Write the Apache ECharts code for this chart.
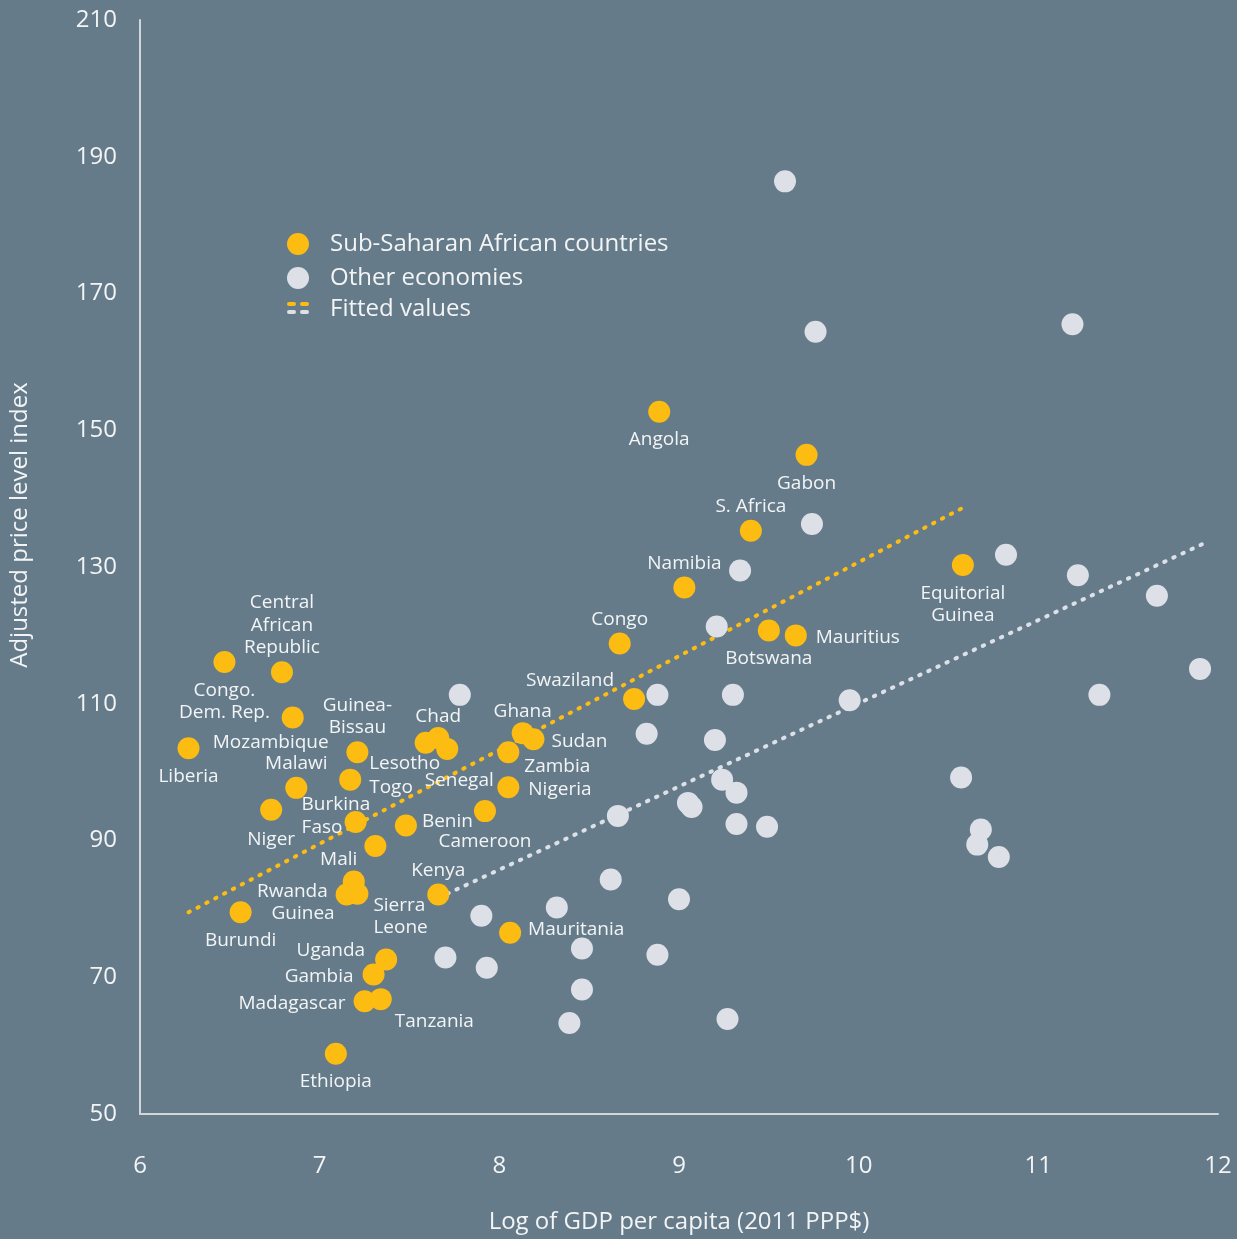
<!DOCTYPE html>
<html>
<head>
<meta charset="utf-8">
<script src="https://cdn.jsdelivr.net/npm/echarts@6/dist/echarts.min.js"></script>
<style>
    html, body { margin: 0; padding: 0; background: #657b8a; }
    #chart { width: 1237px; height: 1239px; }
</style>
</head>
<body>
<div id="chart"></div>
<script>
// 撒哈拉以南非洲国家
var ssaNames = ['Angola', 'Gabon', 'S. Africa', 'Namibia', 'Equitorial\nGuinea', 'Congo', 'Botswana', 'Mauritius',
    'Swaziland', 'Ghana', 'Sudan', 'Zambia', 'Nigeria', 'Cameroon', 'Benin', 'Chad', 'Lesotho', 'Senegal',
    'Guinea-\nBissau', 'Togo', 'Congo.\nDem. Rep.', 'Central\nAfrican\nRepublic', 'Mozambique', 'Liberia', 'Malawi',
    'Niger', 'Burkina\nFaso', 'Mali', 'Kenya', 'Rwanda', 'Guinea', 'Sierra\nLeone', 'Burundi', 'Uganda', 'Gambia',
    'Madagascar', 'Tanzania', 'Ethiopia', 'Mauritania'];
var ssaGdp = [8.89, 9.71, 9.40, 9.03, 10.58, 8.67, 9.50, 9.65,
    8.75, 8.13, 8.19, 8.05, 8.05, 7.92, 7.48, 7.66, 7.59, 7.71,
    7.21, 7.17, 6.47, 6.79, 6.85, 6.27, 6.87,
    6.73, 7.20, 7.31, 7.66, 7.19, 7.15, 7.21, 6.56, 7.37, 7.30,
    7.25, 7.34, 7.09, 8.06];
var ssaPrice = [152.7, 146.4, 135.3, 127.0, 130.3, 118.8, 120.7, 120.0,
    110.7, 105.7, 104.8, 102.9, 97.8, 94.3, 92.2, 105.0, 104.3, 103.4,
    102.9, 98.9, 116.1, 114.6, 108.0, 103.5, 97.7,
    94.5, 92.7, 89.2, 82.1, 84.0, 82.1, 82.2, 79.5, 72.6, 70.4,
    66.5, 66.8, 58.8, 76.5];

// 其他经济体
var otherGdp = [9.59, 9.76, 11.19, 9.74, 10.82, 9.34, 11.22, 11.66, 9.21, 11.90,
    7.78, 8.88, 9.30, 11.34, 9.95, 8.82, 9.20, 10.57, 9.24, 9.32,
    9.05, 9.07, 8.66, 9.32, 9.49, 10.68, 10.66, 10.78, 8.62, 9.00,
    8.32, 7.90, 8.46, 8.88, 7.70, 7.93, 8.46, 8.39, 9.27];
var otherPrice = [186.4, 164.4, 165.5, 136.3, 131.8, 129.5, 128.8, 125.8, 121.3, 115.1,
    111.3, 111.3, 111.3, 111.3, 110.5, 105.6, 104.7, 99.2, 98.9, 97.0,
    95.5, 94.9, 93.6, 92.4, 92.0, 91.6, 89.4, 87.6, 84.3, 81.4,
    80.2, 79.0, 74.2, 73.3, 72.9, 71.4, 68.2, 63.3, 63.9];

// 拟合线
var fitSsaGdp = [6.27, 10.59];
var fitSsaPrice = [79.5, 138.8];
var fitOtherGdp = [7.66, 11.91];
var fitOtherPrice = [81.6, 133.3];

var xTicks = [6, 7, 8, 9, 10, 11, 12];
var yTicks = [50, 70, 90, 110, 130, 150, 170, 190, 210];

var YELLOW = '#fdbc11';
var GREY = '#dde1e7';
var TEXT = '#f3f4f5';
var FONT = '"Open Sans", "Noto Sans", sans-serif';

// 标签位置 [position, distance, dx, dy, align]
var labelSpots = {
    'Mauritius': ['right', 9, 0, 0],
    'Swaziland': ['top', 4, -64, 6],
    'Ghana': ['top', 4, 0, 3],
    'Sudan': ['right', 7, 0, 0],
    'Zambia': ['right', 5, 0, 12],
    'Nigeria': ['right', 9, 0, 0],
    'Cameroon': ['bottom', 4, 0, 2],
    'Benin': ['right', 5, 0, -6],
    'Chad': ['top', 4, 0, 3],
    'Lesotho': ['inside', 0, -21, 19],
    'Senegal': ['inside', 0, 12, 30],
    'Togo': ['right', 8, 0, 6],
    'Mozambique': ['bottom', 4, -22, -3],
    'Niger': ['bottom', 4, 0, 2],
    'Burkina\nFaso': ['inside', 0, -54, -8, 'left'],
    'Mali': ['left', 7, 0, 12],
    'Rwanda': ['left', 15, 0, 8],
    'Guinea': ['left', 1, 0, 17],
    'Sierra\nLeone': ['right', 5, 0, 21],
    'Uganda': ['left', 10, 0, -11],
    'Gambia': ['left', 9, 0, 0],
    'Madagascar': ['left', 8, 0, 0],
    'Tanzania': ['right', 3, 0, 20],
    'Mauritania': ['right', 7, 0, -5],
    'S. Africa': ['top', 4, 0, 0],
    'Namibia': ['top', 4, 0, 0],
    'Congo': ['top', 4, 0, 0],
    'Guinea-\nBissau': ['top', 4, 0, 0],
    'Central\nAfrican\nRepublic': ['top', 4, 0, 0],
    'Malawi': ['top', 4, 0, 0],
    'Kenya': ['top', 4, 0, 0]
};

function spotOf(name) {
    return labelSpots[name] || ['bottom', 4, 0, 0];
}

function pairs(xs, ys) {
    var out = [];
    for (var i = 0; i < xs.length; i++) {
        out.push([xs[i], ys[i]]);
    }
    return out;
}

function buildSsaData() {
    var out = [];
    for (var i = 0; i < ssaNames.length; i++) {
        var spot = spotOf(ssaNames[i]);
        var label = {
            position: spot[0],
            distance: spot[1]
        };
        if (spot[4]) {
            label.align = spot[4];
        }
        out.push({
            name: ssaNames[i],
            value: [ssaGdp[i], ssaPrice[i]],
            label: label
        });
    }
    return out;
}

var chart = echarts.init(document.getElementById('chart'));
var option = {
    backgroundColor: '#657b8a',
    animation: false,
    textStyle: { fontFamily: FONT },
    grid: { left: 140, right: 19, top: 20, bottom: 122 },
    legend: {
        left: 287,
        top: 232,
        padding: 0,
        orient: 'vertical',
        itemWidth: 22,
        itemHeight: 22,
        itemGap: 10,
        selectedMode: false,
        textStyle: { color: TEXT, fontSize: 24, lineHeight: 22, fontFamily: FONT, padding: [0, 0, 0, 16] },
        data: [
            { name: 'Sub-Saharan African countries', icon: 'circle' },
            { name: 'Other economies', icon: 'circle' }
        ]
    },
    graphic: [
        // 拟合线图例
        { type: 'rect', shape: { x: 287, y: 302, width: 9, height: 4, r: 2 }, style: { fill: YELLOW } },
        { type: 'rect', shape: { x: 300, y: 302, width: 9, height: 4, r: 2 }, style: { fill: YELLOW } },
        { type: 'rect', shape: { x: 287, y: 310, width: 9, height: 4, r: 2 }, style: { fill: GREY } },
        { type: 'rect', shape: { x: 300, y: 310, width: 9, height: 4, r: 2 }, style: { fill: GREY } },
        {
            type: 'text', x: 330, y: 309,
            style: { text: 'Fitted values', fill: TEXT, font: '24px ' + FONT, align: 'left', verticalAlign: 'middle' }
        },
        // y轴名称
        {
            type: 'text', x: 20, y: 525, rotation: Math.PI / 2,
            style: { text: 'Adjusted price level index', fill: TEXT, font: '24px ' + FONT, align: 'center', verticalAlign: 'middle' }
        }
    ],
    xAxis: {
        type: 'value',
        min: xTicks[0],
        max: xTicks[xTicks.length - 1],
        interval: 1,
        name: 'Log of GDP per capita (2011 PPP$)',
        nameLocation: 'middle',
        nameGap: 96,
        nameTextStyle: { color: TEXT, fontSize: 24, fontFamily: FONT },
        axisLine: { lineStyle: { color: '#d3d6d9', width: 2 } },
        axisTick: { show: false },
        splitLine: { show: false },
        axisLabel: { color: TEXT, fontSize: 24, margin: 40, fontFamily: FONT }
    },
    yAxis: {
        type: 'value',
        min: yTicks[0],
        max: yTicks[yTicks.length - 1],
        interval: 20,
        axisLine: { show: true, lineStyle: { color: '#d3d6d9', width: 2 } },
        axisTick: { show: false },
        splitLine: { show: false },
        axisLabel: { color: TEXT, fontSize: 24, margin: 23, padding: [4, 0, 0, 0], fontFamily: FONT }
    },
    series: [
        {
            name: 'Fitted SSA',
            type: 'line',
            showSymbol: false,
            symbol: 'none',
            lineStyle: { color: YELLOW, width: 4, type: [1.5, 8.5], cap: 'round' },
            data: pairs(fitSsaGdp, fitSsaPrice),
            z: 1
        },
        {
            name: 'Fitted other',
            type: 'line',
            showSymbol: false,
            symbol: 'none',
            lineStyle: { color: GREY, width: 4, type: [1.5, 8.5], cap: 'round' },
            data: pairs(fitOtherGdp, fitOtherPrice),
            z: 1
        },
        {
            name: 'Other economies',
            type: 'scatter',
            symbolSize: 22,
            itemStyle: { color: GREY, opacity: 1 },
            data: pairs(otherGdp, otherPrice),
            z: 2
        },
        {
            name: 'Sub-Saharan African countries',
            type: 'scatter',
            symbolSize: 22,
            itemStyle: { color: YELLOW, opacity: 1 },
            label: {
                show: true,
                formatter: '{b}',
                color: TEXT,
                fontSize: 19,
                lineHeight: 22.5,
                fontFamily: FONT
            },
            // 标签微调
            labelLayout: function (params) {
                var spot = spotOf(ssaNames[params.dataIndex]);
                return { dx: spot[2], dy: spot[3] + 2, hideOverlap: false };
            },
            data: buildSsaData(),
            z: 3
        }
    ]
};
chart.setOption(option);
</script>
</body>
</html>
